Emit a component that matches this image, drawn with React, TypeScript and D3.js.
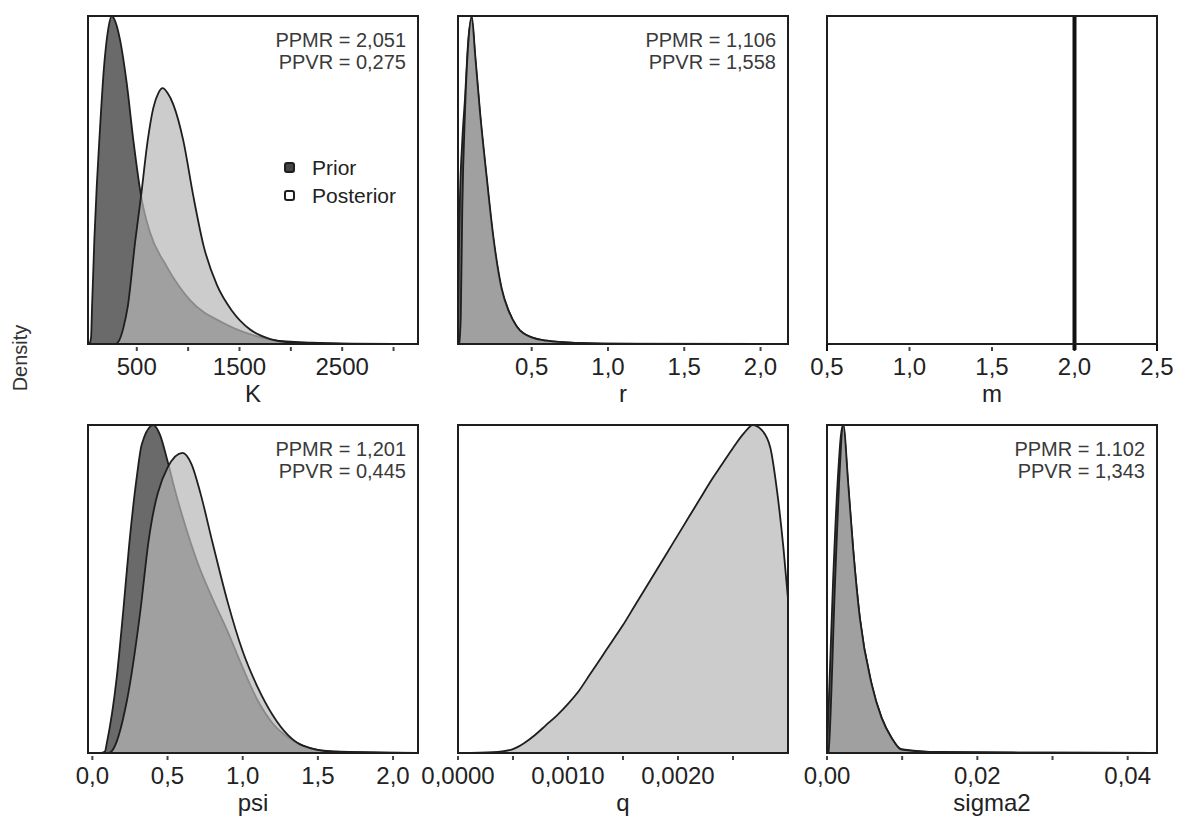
import React from "react";
import * as d3 from "d3";

type Pt = [number, number];

// ---------- data (relative densities) ----------
const kPrior: Pt[] = [
  [40, 0], [55, 0.02], [64, 0.11], [87, 0.32], [110, 0.48], [135, 0.62], [181, 0.845],
  [217, 0.95], [256, 1.0], [300, 0.975], [337, 0.927], [402, 0.795], [467, 0.62],
  [548, 0.44], [629, 0.34], [792, 0.236], [1018, 0.134], [1343, 0.064], [1600, 0.03],
  [1830, 0.012], [2200, 0.004], [2600, 0.001], [3238, 0],
];
const kPosterior: Pt[] = [
  [300, 0], [330, 0.012], [370, 0.05], [412, 0.114], [486, 0.317], [541, 0.45],
  [606, 0.62], [661, 0.72], [710, 0.765], [752, 0.78], [800, 0.765], [856, 0.73],
  [953, 0.62], [1051, 0.45], [1150, 0.3], [1280, 0.18], [1430, 0.1], [1600, 0.045],
  [1800, 0.015], [1976, 0.005], [2400, 0.001], [2500, 0],
];
const rPrior: Pt[] = [
  [0.017, 0.02], [0.022, 0.25], [0.03, 0.45], [0.045, 0.62], [0.063, 0.75], [0.085, 0.93],
  [0.107, 0.99], [0.13, 0.87], [0.161, 0.7], [0.205, 0.5], [0.248, 0.32], [0.303, 0.165],
  [0.35, 0.1], [0.4, 0.055], [0.5, 0.02], [0.6, 0.01], [0.8, 0.003], [1.0, 0.001], [2.18, 0],
];
const rPosterior: Pt[] = [
  [0.025, 0], [0.035, 0.08], [0.045, 0.41], [0.063, 0.71], [0.085, 0.92], [0.107, 1.0],
  [0.13, 0.88], [0.161, 0.71], [0.205, 0.51], [0.248, 0.33], [0.303, 0.17], [0.35, 0.1],
  [0.4, 0.055], [0.5, 0.02], [0.6, 0.01], [0.8, 0.003], [1.0, 0.001], [1.2, 0],
];
const mFixed = 2.0;
const psiPrior: Pt[] = [
  [0.06, 0], [0.084, 0.005], [0.096, 0.03], [0.162, 0.23], [0.206, 0.436], [0.246, 0.64],
  [0.295, 0.84], [0.328, 0.94], [0.405, 1.0], [0.45, 0.97], [0.5, 0.89], [0.55, 0.8],
  [0.6, 0.72], [0.7, 0.58], [0.8, 0.47], [0.9, 0.37], [1.0, 0.26], [1.1, 0.16],
  [1.2, 0.09], [1.31, 0.045], [1.45, 0.015], [1.6, 0.005], [2.166, 0],
];
const psiPosterior: Pt[] = [
  [0.11, 0], [0.128, 0.005], [0.23, 0.16], [0.32, 0.436], [0.372, 0.64], [0.5, 0.87],
  [0.6, 0.915], [0.66, 0.88], [0.72, 0.79], [0.8, 0.64], [0.9, 0.46], [1.0, 0.31],
  [1.1, 0.2], [1.2, 0.115], [1.3, 0.055], [1.4, 0.022], [1.6, 0.004], [2.0, 0.001], [2.166, 0],
];
const qPosterior: Pt[] = [
  [0, 0], [0.0002, 0.001], [0.0004, 0.005], [0.0005, 0.012], [0.0006, 0.03],
  [0.0007, 0.055], [0.0008, 0.085], [0.0009, 0.115], [0.001, 0.15], [0.0011, 0.19],
  [0.0012, 0.24], [0.0013, 0.29], [0.0014, 0.34], [0.0015, 0.39], [0.0016, 0.445],
  [0.0017, 0.5], [0.0018, 0.555], [0.0019, 0.61], [0.002, 0.665], [0.0021, 0.72],
  [0.0022, 0.775], [0.0023, 0.83], [0.0024, 0.88], [0.0025, 0.93], [0.0026, 0.975],
  [0.00268, 1.0], [0.00276, 0.985], [0.00284, 0.93], [0.0029, 0.8], [0.00296, 0.62],
  [0.003, 0.47],
];
const sigma2Prior: Pt[] = [
  [0, 0.02], [0.00015, 0.1], [0.0008, 0.52], [0.0014, 0.82], [0.0021, 1.0], [0.0028, 0.82],
  [0.0035, 0.616], [0.00438, 0.41], [0.00594, 0.21], [0.00727, 0.107], [0.0086, 0.046],
  [0.0099, 0.012], [0.015, 0.003], [0.03, 0.001], [0.0439, 0],
];
const sigma2Posterior: Pt[] = [
  [0.0002, 0], [0.00027, 0.02], [0.00106, 0.514], [0.0016, 0.82], [0.00217, 1.0],
  [0.00283, 0.82], [0.0035, 0.616], [0.00438, 0.41], [0.00594, 0.21], [0.00727, 0.107],
  [0.0086, 0.046], [0.0099, 0.01], [0.015, 0.002], [0.03, 0.001], [0.0439, 0],
];

const kTicks = [500, 1000, 1500, 2000, 2500, 3000];
const kLabels = [500, 1500, 2500];
const rTicks = [0.5, 1.0, 1.5, 2.0];
const mTicks = [0.5, 1.0, 1.5, 2.0, 2.5];
const psiTicks = [0.0, 0.5, 1.0, 1.5, 2.0];
const qTicks = [0, 0.0005, 0.001, 0.0015, 0.002, 0.0025];
const qLabels = [0, 0.001, 0.002];
const sigma2Ticks = [0, 0.01, 0.02, 0.03, 0.04];
const sigma2Labels = [0, 0.02, 0.04];

const kStats = ["PPMR = 2,051", "PPVR = 0,275"];
const rStats = ["PPMR = 1,106", "PPVR = 1,558"];
const psiStats = ["PPMR = 1,201", "PPVR = 0,445"];
const sigma2Stats = ["PPMR = 1.102", "PPVR = 1,343"];
const legendLabels = ["Prior", "Posterior"];

// ---------- layout ----------
const W = 1177;
const H = 818;
const colX = [88, 458, 827];
const rowY = [16, 425];
const PW = 330;
const PH = 328;
const FONT = "'Liberation Sans', Arial, sans-serif";

const comma = (f: string) => (v: number) => d3.format(f)(v).replace(".", ",");

interface Panel {
  title: string;
  col: number;
  row: number;
  domain: [number, number];
  ticks: number[];
  labels: number[];
  fmt: (v: number) => string;
  prior?: Pt[];
  posterior?: Pt[];
  stats?: string[];
  fixed?: number;
  legend?: boolean;
}

const panels: Panel[] = [
  { title: "K", col: 0, row: 0, domain: [25, 3238], ticks: kTicks, labels: kLabels, fmt: d3.format("d"), prior: kPrior, posterior: kPosterior, stats: kStats, legend: true },
  { title: "r", col: 1, row: 0, domain: [0.017, 2.18], ticks: rTicks, labels: rTicks, fmt: comma(".1f"), prior: rPrior, posterior: rPosterior, stats: rStats },
  { title: "m", col: 2, row: 0, domain: [0.5, 2.5], ticks: mTicks, labels: mTicks, fmt: comma(".1f"), fixed: mFixed },
  { title: "psi", col: 0, row: 1, domain: [-0.029, 2.166], ticks: psiTicks, labels: psiTicks, fmt: comma(".1f"), prior: psiPrior, posterior: psiPosterior, stats: psiStats },
  { title: "q", col: 1, row: 1, domain: [0, 0.003], ticks: qTicks, labels: qLabels, fmt: comma(".4f"), posterior: qPosterior },
  { title: "sigma2", col: 2, row: 1, domain: [0, 0.0439], ticks: sigma2Ticks, labels: sigma2Labels, fmt: comma(".2f"), prior: sigma2Prior, posterior: sigma2Posterior, stats: sigma2Stats },
];

const PRIOR_FILL = "#000000";
const PRIOR_OP = 0.585;
const POST_FILL = "#b7b7b7";
const POST_OP = 0.705;
const LINE = "#1e1e1e";

function PanelView({ p, i }: { p: Panel; i: number }) {
  const x0 = colX[p.col];
  const y0 = rowY[p.row];
  const x = d3.scaleLinear().domain(p.domain).range([x0, x0 + PW]);
  const y = d3.scaleLinear().domain([0, 1]).range([y0 + PH, y0]);
  const area = d3.area<Pt>().x((d) => x(d[0])).y0(y0 + PH).y1((d) => y(d[1])).curve(d3.curveMonotoneX);
  const line = d3.line<Pt>().x((d) => x(d[0])).y((d) => y(d[1])).curve(d3.curveMonotoneX);
  const clipId = `clip-${i}`;
  const bottom = y0 + PH;
  return (
    <g>
      <defs>
        <clipPath id={clipId}>
          <rect x={x0} y={y0} width={PW} height={PH} />
        </clipPath>
      </defs>
      <g clipPath={`url(#${clipId})`}>
        {p.prior && (
          <g>
            <path d={area(p.prior) || ""} fill={PRIOR_FILL} fillOpacity={PRIOR_OP} />
            <path d={line(p.prior) || ""} fill="none" stroke={LINE} strokeWidth={1.8} />
          </g>
        )}
        {p.posterior && (
          <g>
            <path d={area(p.posterior) || ""} fill={POST_FILL} fillOpacity={POST_OP} />
            <path d={line(p.posterior) || ""} fill="none" stroke={LINE} strokeWidth={1.8} />
          </g>
        )}
      </g>
      {p.fixed !== undefined && (
        <line x1={x(p.fixed)} x2={x(p.fixed)} y1={y0} y2={bottom + 6} stroke="#111" strokeWidth={4} />
      )}
      <rect x={x0} y={y0} width={PW} height={PH} fill="none" stroke={LINE} strokeWidth={2} />
      {p.ticks.map((t) => {
        const tx = x(t);
        const edge = p.fixed !== undefined && (t === p.domain[0] || t === p.domain[1] || t === p.fixed);
        return (
          <line key={"t" + t} x1={tx} x2={tx} y1={edge ? bottom : bottom + 3} y2={bottom + 7}
            stroke={edge ? "#111" : "#444"} strokeWidth={2} />
        );
      })}
      {p.labels.map((t) => (
        <text key={"l" + t} x={x(t)} y={bottom + 31} textAnchor="middle" fontSize={24} fill="#222" fontFamily={FONT}>
          {p.fmt(t)}
        </text>
      ))}
      <text x={x0 + PW / 2} y={bottom + 58} textAnchor="middle" fontSize={24} fill="#222" fontFamily={FONT}>
        {p.title}
      </text>
      {p.stats &&
        p.stats.map((s, k) => (
          <text key={s} x={x0 + PW - 12} y={y0 + 31 + k * 22} textAnchor="end" fontSize={20} fill="#3a3a3a" fontFamily={FONT}>
            {s}
          </text>
        ))}
      {p.legend && (
        <g fontFamily={FONT}>
          {legendLabels.map((lab, k) => (
            <g key={lab}>
              <rect x={x0 + 197} y={y0 + 147 + k * 28} width={9} height={9} rx={2}
                fill={k === 0 ? "#444" : "#fff"} stroke={LINE} strokeWidth={2} />
              <text x={x0 + 224} y={y0 + 159 + k * 28} fontSize={21} fill="#222">{lab}</text>
            </g>
          ))}
        </g>
      )}
    </g>
  );
}

export default function App() {
  return (
    <svg width={W} height={H} style={{ position: "absolute", left: 0, top: 0, background: "#fff" }}>
      <rect x={0} y={0} width={W} height={H} fill="#fff" />
      {panels.map((p, i) => (
        <PanelView key={p.title} p={p} i={i} />
      ))}
      <text transform="translate(27,358) rotate(-90)" textAnchor="middle" fontSize={20} fill="#333" fontFamily={FONT}>
        Density
      </text>
    </svg>
  );
}
